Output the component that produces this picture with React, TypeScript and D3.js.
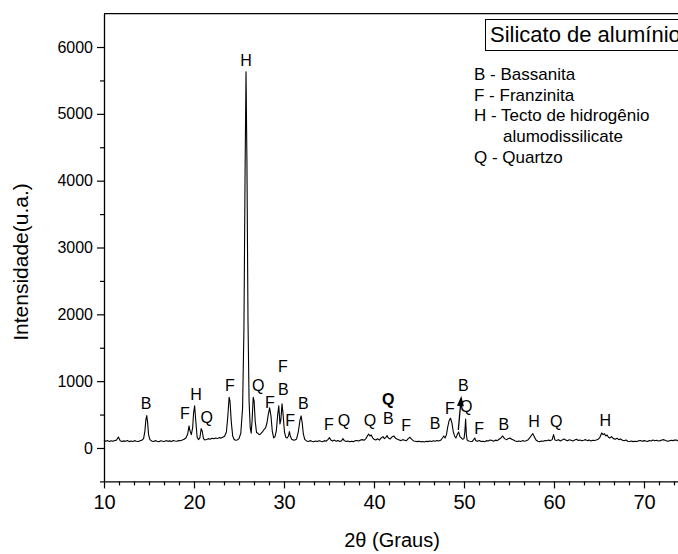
import React, { useRef, useEffect } from "react";
import * as d3 from "d3";

const WIDTH = 678;
const HEIGHT = 554;
const FONT = "Arial, 'Liberation Sans', Helvetica, sans-serif";

// XRD pattern: [2θ, intensity]
const pattern: [number, number][] = [
  [10.0, 118], [10.2, 102], [10.4, 110], [10.6, 96], [10.8, 108], [11.0, 100], [11.2, 112],
  [11.4, 118], [11.6, 165], [11.8, 110], [12.0, 98], [12.2, 106], [12.4, 100], [12.6, 112],
  [12.8, 95], [13.0, 104], [13.2, 98], [13.4, 110], [13.6, 102], [13.8, 96], [14.0, 108],
  [14.2, 115], [14.4, 140], [14.55, 260], [14.65, 420], [14.75, 485], [14.85, 380], [14.95, 200],
  [15.1, 125], [15.3, 105], [15.5, 98], [15.7, 110], [15.9, 100], [16.1, 94], [16.3, 108],
  [16.5, 102], [16.7, 96], [16.9, 110], [17.1, 100], [17.3, 106], [17.5, 98], [17.7, 112],
  [17.9, 104], [18.1, 100], [18.3, 110], [18.5, 108], [18.7, 118], [18.9, 130], [19.1, 150],
  [19.3, 210], [19.45, 330], [19.55, 260], [19.7, 200], [19.85, 300], [19.95, 520], [20.07, 630],
  [20.2, 400], [20.35, 160], [20.5, 125], [20.65, 150], [20.8, 290], [20.92, 250], [21.05, 140],
  [21.2, 120], [21.4, 128], [21.6, 140], [21.8, 132], [22.0, 145], [22.2, 138], [22.4, 150],
  [22.6, 142], [22.8, 155], [23.0, 148], [23.2, 160], [23.4, 175], [23.6, 240], [23.75, 460],
  [23.9, 760], [24.0, 700], [24.15, 380], [24.3, 180], [24.45, 130], [24.6, 115], [24.8, 120],
  [25.0, 140], [25.2, 220], [25.4, 600], [25.55, 1800], [25.68, 4200], [25.78, 5630], [25.88, 4300],
  [26.0, 1900], [26.12, 700], [26.25, 300], [26.35, 220], [26.45, 400], [26.58, 760], [26.68, 700],
  [26.8, 400], [26.95, 230], [27.1, 220], [27.25, 200], [27.4, 210], [27.6, 240], [27.8, 280],
  [27.95, 300], [28.1, 370], [28.25, 500], [28.4, 600], [28.55, 480], [28.7, 250], [28.85, 150],
  [29.0, 170], [29.15, 260], [29.3, 500], [29.42, 630], [29.55, 360], [29.65, 420], [29.78, 660],
  [29.9, 500], [30.05, 240], [30.2, 160], [30.35, 150], [30.5, 180], [30.6, 245], [30.7, 180],
  [30.85, 130], [31.0, 120], [31.2, 118], [31.4, 135], [31.6, 250], [31.78, 420], [31.9, 480],
  [32.02, 380], [32.15, 210], [32.3, 130], [32.5, 105], [32.7, 98], [32.9, 110], [33.1, 100],
  [33.3, 92], [33.5, 105], [33.7, 96], [33.9, 108], [34.1, 100], [34.3, 94], [34.5, 110],
  [34.7, 102], [34.9, 130], [35.05, 155], [35.2, 120], [35.4, 105], [35.6, 118], [35.8, 100],
  [36.0, 112], [36.2, 98], [36.4, 108], [36.55, 140], [36.7, 110], [36.9, 96], [37.1, 104],
  [37.3, 92], [37.5, 100], [37.7, 95], [37.9, 108], [38.1, 112], [38.3, 105], [38.5, 118],
  [38.7, 125], [38.9, 115], [39.1, 140], [39.25, 175], [39.4, 210], [39.55, 180], [39.7, 195],
  [39.85, 150], [40.0, 130], [40.2, 120], [40.4, 138], [40.6, 118], [40.8, 150], [41.0, 170],
  [41.15, 140], [41.3, 155], [41.45, 185], [41.6, 150], [41.8, 135], [42.0, 165], [42.2, 180],
  [42.4, 145], [42.6, 130], [42.8, 120], [43.0, 110], [43.2, 125], [43.4, 115], [43.6, 110],
  [43.8, 140], [44.0, 160], [44.2, 130], [44.4, 105], [44.6, 100], [44.8, 95], [45.0, 102],
  [45.2, 92], [45.4, 98], [45.6, 90], [45.8, 100], [46.0, 95], [46.2, 104], [46.4, 98],
  [46.6, 108], [46.8, 102], [47.0, 112], [47.2, 105], [47.4, 115], [47.6, 150], [47.75, 180],
  [47.9, 150], [48.05, 200], [48.2, 320], [48.35, 410], [48.5, 445], [48.65, 380], [48.8, 250],
  [48.95, 180], [49.1, 150], [49.25, 200], [49.4, 240], [49.55, 170], [49.7, 150], [49.85, 130],
  [50.0, 140], [50.1, 250], [50.18, 434], [50.26, 200], [50.35, 120], [50.5, 105], [50.7, 100],
  [50.9, 96], [51.1, 130], [51.2, 150], [51.3, 110], [51.5, 100], [51.7, 112], [51.9, 98],
  [52.1, 102], [52.3, 94], [52.5, 110], [52.7, 104], [52.9, 120], [53.1, 112], [53.3, 100],
  [53.5, 118], [53.7, 110], [53.9, 130], [54.1, 150], [54.3, 180], [54.5, 140], [54.7, 125],
  [54.9, 138], [55.1, 150], [55.3, 130], [55.5, 118], [55.7, 105], [55.9, 98], [56.1, 104],
  [56.3, 96], [56.5, 110], [56.7, 102], [56.9, 108], [57.1, 120], [57.3, 150], [57.5, 190],
  [57.65, 215], [57.8, 170], [58.0, 120], [58.2, 100], [58.4, 92], [58.6, 105], [58.8, 100],
  [59.0, 112], [59.2, 108], [59.4, 118], [59.6, 110], [59.8, 125], [59.95, 200], [60.1, 120],
  [60.3, 112], [60.5, 125], [60.7, 105], [60.9, 118], [61.1, 135], [61.3, 120], [61.5, 108],
  [61.7, 122], [61.9, 115], [62.1, 105], [62.3, 118], [62.5, 130], [62.7, 112], [62.9, 120],
  [63.1, 108], [63.3, 115], [63.5, 125], [63.7, 110], [63.9, 118], [64.1, 106], [64.3, 115],
  [64.5, 112], [64.7, 120], [64.9, 130], [65.1, 160], [65.3, 225], [65.45, 200], [65.6, 215],
  [65.75, 180], [65.9, 195], [66.05, 160], [66.2, 150], [66.4, 170], [66.6, 140], [66.8, 130],
  [67.0, 145], [67.2, 125], [67.4, 135], [67.6, 115], [67.8, 108], [68.0, 120], [68.2, 100],
  [68.4, 96], [68.6, 105], [68.8, 95], [69.0, 102], [69.2, 96], [69.4, 108], [69.6, 112],
  [69.8, 100], [70.0, 110], [70.2, 104], [70.4, 96], [70.6, 112], [70.8, 105], [71.0, 118],
  [71.2, 108], [71.4, 115], [71.6, 105], [71.8, 110], [72.0, 120], [72.2, 125], [72.4, 112],
  [72.6, 100], [72.8, 106], [73.0, 115], [73.2, 110], [73.4, 118], [73.6, 120], [73.8, 105],
  [74.0, 112],
];

// phase letters placed over the peaks
const peakLetters = ["B", "F", "H", "Q", "F", "H", "Q", "F", "F", "B", "F", "B", "F", "Q", "Q", "Q", "B", "F", "B", "F", "B", "Q", "F", "B", "H", "Q", "H"];
const peakTheta = [14.67, 19.0, 20.22, 21.41, 24.0, 25.78, 27.14, 28.44, 29.89, 29.92, 30.67, 32.14, 35.0, 36.67, 39.56, 41.59, 41.59, 43.56, 46.78, 48.44, 49.92, 50.26, 51.67, 54.44, 57.78, 60.26, 65.7];
const peakLevel = [669, 513, 808, 464, 943, 5808, 939, 689, 1228, 883, 409, 674, 359, 419, 409, 734, 449, 344, 374, 599, 943, 618, 299, 359, 394, 394, 409];
const boldLetter = [false, false, false, false, false, false, false, false, false, false, false, false, false, false, false, true, false, false, false, false, false, false, false, false, false, false, false];

// arrow next to the B peak near 49.5°
const arrowFrom: [number, number] = [49.37, 269];
const arrowTo: [number, number] = [49.7, 778];

const xMajor = [10, 20, 30, 40, 50, 60, 70];
const yMajor = [0, 1000, 2000, 3000, 4000, 5000, 6000];

const legendTitle = "Silicato de alumínio";
const legendLines = ["B - Bassanita", "F - Franzinita", "H - Tecto de hidrogênio", "alumodissilicate", "Q - Quartzo"];
const legendIndent = [0, 0, 0, 1, 0];

export default function App() {
  const svgRef = useRef<SVGSVGElement>(null);

  useEffect(() => {
    const svg = d3.select(svgRef.current);
    svg.selectAll("*").remove();

    const x = d3.scaleLinear().domain([10, 80]).range([104, 734]);
    const y = d3.scaleLinear().domain([-500, 6500]).range([481.4, 13.6]);

    const xMinor: number[] = [];
    for (let i = 0; i < xMajor.length; i++) {
      for (let k = 1; k < 6; k++) xMinor.push(xMajor[i] + (k * 10) / 6);
    }
    const yMinor = [-500, 500, 1500, 2500, 3500, 4500, 5500];

    // top frame line
    svg.append("line")
      .attr("x1", x(10)).attr("x2", WIDTH)
      .attr("y1", y(6500)).attr("y2", y(6500))
      .attr("stroke", "#000").attr("stroke-width", 1.3);

    // X axis
    const xAxisG = svg.append("g")
      .attr("transform", `translate(0,${y(-500)})`)
      .call(d3.axisBottom(x).tickValues(xMajor).tickSize(7).tickSizeOuter(0).tickPadding(6));
    xAxisG.select(".domain").attr("stroke", "#000").attr("stroke-width", 1.3);
    xAxisG.selectAll("line").attr("stroke", "#000").attr("stroke-width", 1.2);
    xAxisG.selectAll("text").attr("font-family", FONT).attr("font-size", 20).attr("fill", "#000");
    svg.append("g")
      .attr("transform", `translate(0,${y(-500)})`)
      .call(d3.axisBottom(x).tickValues(xMinor).tickSize(4).tickSizeOuter(0).tickFormat(() => ""))
      .call((g) => g.select(".domain").remove())
      .call((g) => g.selectAll("line").attr("stroke", "#000").attr("stroke-width", 1.2));

    // Y axis
    const yAxisG = svg.append("g")
      .attr("transform", `translate(${x(10)},0)`)
      .call(d3.axisLeft(y).tickValues(yMajor).tickSize(7).tickSizeOuter(0).tickPadding(4).tickFormat(d3.format("d")));
    yAxisG.select(".domain").attr("stroke", "#000").attr("stroke-width", 1.3);
    yAxisG.selectAll("line").attr("stroke", "#000").attr("stroke-width", 1.2);
    yAxisG.selectAll("text").attr("font-family", FONT).attr("font-size", 16).attr("fill", "#000");
    svg.append("g")
      .attr("transform", `translate(${x(10)},0)`)
      .call(d3.axisLeft(y).tickValues(yMinor).tickSize(4).tickSizeOuter(0).tickFormat(() => ""))
      .call((g) => g.select(".domain").remove())
      .call((g) => g.selectAll("line").attr("stroke", "#000").attr("stroke-width", 1.2));

    // axis titles
    svg.append("text")
      .attr("x", 392).attr("y", 547)
      .attr("text-anchor", "middle")
      .attr("font-family", FONT).attr("font-size", 20)
      .text("2θ (Graus)");
    svg.append("text")
      .attr("transform", `translate(28,262) rotate(-90)`)
      .attr("text-anchor", "middle")
      .attr("font-family", FONT).attr("font-size", 21)
      .text("Intensidade(u.a.)");

    // pattern
    const line = d3.line<[number, number]>()
      .x((d) => x(d[0]))
      .y((d) => y(d[1]));
    svg.append("path")
      .datum(pattern)
      .attr("fill", "none")
      .attr("stroke", "#000")
      .attr("stroke-width", 1.1)
      .attr("stroke-linejoin", "round")
      .attr("d", line);

    // peak letters
    svg.append("g")
      .selectAll("text")
      .data(peakLetters)
      .join("text")
      .attr("x", (_, i) => x(peakTheta[i]))
      .attr("y", (_, i) => y(peakLevel[i]))
      .attr("dy", "0.36em")
      .attr("text-anchor", "middle")
      .attr("font-family", FONT)
      .attr("font-size", 16)
      .attr("font-weight", (_, i) => (boldLetter[i] ? "bold" : "normal"))
      .text((d) => d);

    // arrow
    const ax0 = x(arrowFrom[0]), ay0 = y(arrowFrom[1]);
    const ax1 = x(arrowTo[0]), ay1 = y(arrowTo[1]);
    const len = Math.hypot(ax1 - ax0, ay1 - ay0);
    const ux = (ax1 - ax0) / len, uy = (ay1 - ay0) / len;
    const headL = 10, headW = 3.5;
    const bx = ax1 - ux * headL, by = ay1 - uy * headL;
    svg.append("line")
      .attr("x1", ax0).attr("y1", ay0).attr("x2", bx).attr("y2", by)
      .attr("stroke", "#000").attr("stroke-width", 1.3);
    svg.append("polygon")
      .attr("points", [
        [ax1, ay1],
        [bx - uy * headW, by + ux * headW],
        [bx + uy * headW, by - ux * headW],
      ].map((p) => p.join(",")).join(" "))
      .attr("fill", "#000");

    // legend title box (runs past the right edge, as in the source)
    svg.append("rect")
      .attr("x", 485.5).attr("y", 19.5)
      .attr("width", 240).attr("height", 31)
      .attr("fill", "#fff").attr("stroke", "#000").attr("stroke-width", 1);
    svg.append("text")
      .attr("x", 490).attr("y", 42)
      .attr("font-family", FONT).attr("font-size", 22)
      .text(legendTitle);

    // legend lines
    svg.append("g")
      .selectAll("text")
      .data(legendLines)
      .join("text")
      .attr("x", (_, i) => 474 + legendIndent[i] * 29)
      .attr("y", (_, i) => 80 + i * 20.7)
      .attr("font-family", FONT)
      .attr("font-size", 17)
      .text((d) => d);
  }, []);

  return (
    <svg
      ref={svgRef}
      width={WIDTH}
      height={HEIGHT}
      style={{ position: "absolute", left: 0, top: 0, background: "#fff" }}
    />
  );
}
